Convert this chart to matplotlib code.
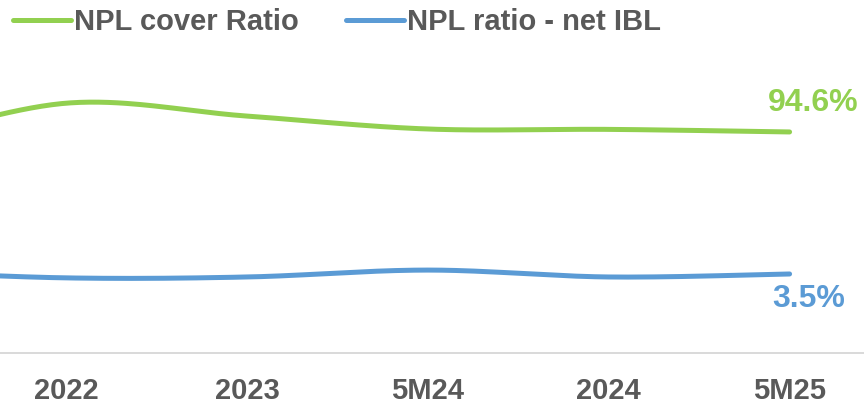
import numpy as np
import matplotlib
matplotlib.use("Agg")
import matplotlib.pyplot as plt
from matplotlib.lines import Line2D

plt.rcParams["font.family"] = ["Liberation Sans", "DejaVu Sans"]
plt.rcParams["font.weight"] = "bold"

# periods (2021 sits just off the left edge of the view)
periods = ["2021", "2022", "2023", "5M24", "2024", "5M25"]
cover_ratio = [91.0, 102.4, 98.9, 95.4, 95.3, 94.6]   # NPL cover ratio, %
npl_ratio = [3.6, 3.37, 3.4, 3.63, 3.4, 3.5]          # NPL ratio - net IBL, %

GREEN = "#92D050"
BLUE = "#5B9BD5"
GREY = "#595959"


def smooth(xs, ys, n=40):
    # Excel-style smoothed line: cubic Bezier segments through each point
    xs = np.asarray(xs, float)
    ys = np.asarray(ys, float)
    px = np.concatenate([[xs[0]], xs, [xs[-1]]])
    py = np.concatenate([[ys[0]], ys, [ys[-1]]])
    out_x, out_y = [], []
    t = np.linspace(0, 1, n)
    for i in range(1, len(px) - 2):
        p0 = np.array([px[i], py[i]])
        p3 = np.array([px[i + 1], py[i + 1]])
        c1 = p0 + (np.array([px[i + 1], py[i + 1]]) - np.array([px[i - 1], py[i - 1]])) / 6
        c2 = p3 - (np.array([px[i + 2], py[i + 2]]) - np.array([px[i], py[i]])) / 6
        b = ((1 - t) ** 3)[:, None] * p0 + (3 * (1 - t) ** 2 * t)[:, None] * c1 \
            + (3 * (1 - t) * t ** 2)[:, None] * c2 + (t ** 3)[:, None] * p3
        out_x.extend(b[:, 0])
        out_y.extend(b[:, 1])
    return np.array(out_x), np.array(out_y)


x = np.arange(len(periods)) - 1  # 2022 -> 0

fig = plt.figure(figsize=(8.64, 4.03), dpi=100)
W, H = 864, 403
ax = fig.add_axes([-205 / W, (H - 353) / H, 1085 / W, 293 / H])
ax2 = ax.twinx()

gx, gy = smooth(x, cover_ratio)
bx, by = smooth(x, npl_ratio)
ax2.plot(gx, gy, color=GREEN, lw=3.6, solid_capstyle="round")
ax.plot(bx, by, color=BLUE, lw=3.6, solid_capstyle="round")

ax.set_xlim(-1.5, 4.5)
ax.set_ylim(0.867, 10.63)
ax2.set_ylim(34.7, 114.1)

# only the periods inside the view get a label
ax.set_xticks(x[1:])
ax.set_xticklabels(periods[1:], fontsize=21, fontweight="bold", color=GREY)
ax.tick_params(axis="x", length=0, pad=17)
ax.set_yticks([])
ax2.set_yticks([])
for a in (ax, ax2):
    for s in ("top", "left", "right"):
        a.spines[s].set_visible(False)
    a.spines["bottom"].set_color("#D9D9D9")
    a.spines["bottom"].set_linewidth(1.1)

ax2.annotate(f"{cover_ratio[-1]:.1f}%", (x[-1], cover_ratio[-1]),
             xytext=(24, 29), textcoords="offset pixels", ha="center", va="center",
             fontsize=23, fontweight="bold", color=GREEN)
ax.annotate(f"{npl_ratio[-1]:.1f}%", (x[-1], npl_ratio[-1]),
            xytext=(19, -25), textcoords="offset pixels", ha="center", va="center",
            fontsize=23, fontweight="bold", color=BLUE)

handles = [Line2D([], [], color=GREEN, lw=3.6, solid_capstyle="round"),
           Line2D([], [], color=BLUE, lw=3.6, solid_capstyle="round")]
leg = fig.legend(handles, ["NPL cover Ratio", "NPL ratio - net IBL"],
                 loc="upper left", bbox_to_anchor=(13 / W, 1 - 8 / H), ncol=2,
                 frameon=False, handlelength=2.0, handletextpad=0.1,
                 columnspacing=1.6, borderaxespad=0, borderpad=0,
                 prop={"size": 21, "weight": "bold"})
for t in leg.get_texts():
    t.set_color(GREY)

fig.savefig("out.png", dpi=100)
